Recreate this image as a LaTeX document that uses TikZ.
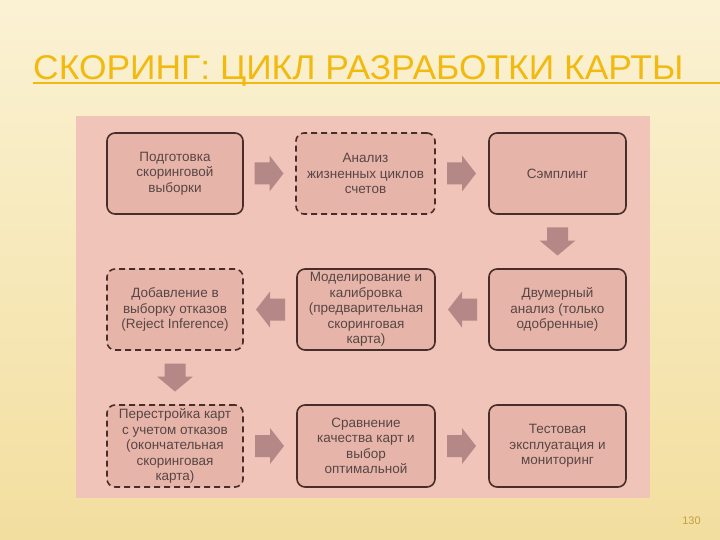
\documentclass[tikz,border=0pt]{standalone}
\usepackage{fontspec}
\setmainfont{Liberation Sans}
\usetikzlibrary{calc}
\definecolor{bgtop}{RGB}{251,242,212}
\definecolor{bgbot}{RGB}{242,222,158}
\definecolor{panel}{RGB}{240,196,184}
\definecolor{boxfill}{RGB}{231,180,170}
\definecolor{boxline}{RGB}{72,46,42}
\definecolor{txt}{RGB}{88,70,68}
\definecolor{arrowc}{RGB}{180,136,134}
\definecolor{titlec}{RGB}{242,186,16}
\definecolor{numc}{RGB}{196,158,64}
\tikzset{
  stepbox/.style={draw=boxline, line width=1.6pt, fill=boxfill, rounded corners=8pt,
    minimum width=136pt, minimum height=81pt, inner sep=0pt, text=txt,
    font=\fontsize{13.5pt}{15.5pt}\selectfont, align=center},
  dashbox/.style={stepbox, dash pattern=on 6pt off 4pt},
}
\newcommand{\rarrow}[1]{\fill[arrowc] ($(#1)+(-15,-11)$) -- ($(#1)+(0,-11)$) -- ($(#1)+(0,-18)$) -- ($(#1)+(14,0)$) -- ($(#1)+(0,18)$) -- ($(#1)+(0,11)$) -- ($(#1)+(-15,11)$) -- cycle;}
\newcommand{\larrow}[1]{\fill[arrowc] ($(#1)+(15,-11)$) -- ($(#1)+(0,-11)$) -- ($(#1)+(0,-18)$) -- ($(#1)+(-14,0)$) -- ($(#1)+(0,18)$) -- ($(#1)+(0,11)$) -- ($(#1)+(15,11)$) -- cycle;}
\newcommand{\darrow}[1]{\fill[arrowc] ($(#1)+(-10.5,-14)$) -- ($(#1)+(-10.5,-1)$) -- ($(#1)+(-18,-1)$) -- ($(#1)+(0,14)$) -- ($(#1)+(18,-1)$) -- ($(#1)+(10.5,-1)$) -- ($(#1)+(10.5,-14)$) -- cycle;}
\begin{document}
\begin{tikzpicture}[x=1pt,y=-1pt]
\useasboundingbox (0,0) rectangle (720,540);
\shade[top color=bgtop, bottom color=bgbot] (0,0) rectangle (720,540);
% title
\node[anchor=base west, inner sep=0pt, text=titlec] (title) at (33,80)
  {\resizebox{650pt}{24pt}{СКОРИНГ: ЦИКЛ РАЗРАБОТКИ КАРТЫ}};
\draw[titlec, line width=1.2pt] (33,83) -- (720,83);
% panel
\fill[panel] (76,116) rectangle (650,498);
% boxes
\node[stepbox] (b1) at (175,173.5) {Подготовка\\скоринговой\\выборки};
\node[dashbox, minimum width=139pt] (b2) at (365.5,173.5) {Анализ\\жизненных циклов\\счетов};
\node[stepbox, minimum width=137pt] (b3) at (557.5,173.5) {Сэмплинг};
\node[dashbox] (b4) at (175,309.5) {Добавление в\\выборку отказов\\(Reject Inference)};
\node[stepbox, minimum width=138pt] (b5) at (366,309.5) {Моделирование и\\калибровка\\(предварительная\\скоринговая\\карта)};
\node[stepbox, minimum width=137pt] (b6) at (557.5,309.5) {Двумерный\\анализ (только\\одобренные)};
\node[dashbox, minimum height=82pt] (b7) at (175,446) {Перестройка карт\\с учетом отказов\\(окончательная\\скоринговая\\карта)};
\node[stepbox, minimum width=138pt, minimum height=82pt] (b8) at (366,446) {Сравнение\\качества карт и\\выбор\\оптимальной};
\node[stepbox, minimum width=137pt, minimum height=82pt] (b9) at (557.5,446) {Тестовая\\эксплуатация и\\мониторинг};
% arrows
\coordinate (m12) at ($(b1.east)!0.5!(b2.west)$);
\coordinate (m23) at ($(b2.east)!0.5!(b3.west)$);
\coordinate (m36) at ($(b3.south)!0.5!(b6.north)$);
\coordinate (m65) at ($(b6.west)!0.5!(b5.east)$);
\coordinate (m54) at ($(b5.west)!0.5!(b4.east)$);
\coordinate (m47) at ($(b4.south)!0.5!(b7.north)$);
\coordinate (m78) at ($(b7.east)!0.5!(b8.west)$);
\coordinate (m89) at ($(b8.east)!0.5!(b9.west)$);
\rarrow{m12}
\rarrow{m23}
\darrow{m36}
\larrow{m65}
\larrow{m54}
\darrow{m47}
\rarrow{m78}
\rarrow{m89}
\node[text=numc, font=\fontsize{11pt}{12pt}\selectfont, inner sep=0pt] (num) at (691.5,521) {130};
\end{tikzpicture}
\end{document}
